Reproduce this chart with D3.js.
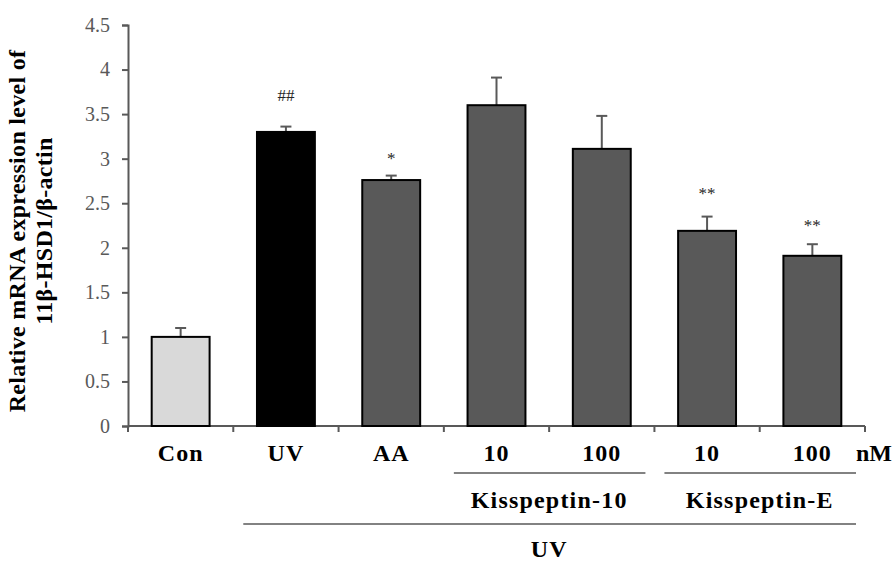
<!DOCTYPE html>
<html>
<head>
<meta charset="utf-8">
<script src="https://cdn.jsdelivr.net/npm/d3@7"></script>
<style>
  body { margin: 0; background: #fff; }
  svg { display: block; font-family: "Liberation Serif", "Times New Roman", serif; }
</style>
</head>
<body>
<svg id="chart" width="893" height="563"></svg>
<script>
// Data
const groups = ['Con', 'UV', 'AA', 'K10_10', 'K10_100', 'KE_10', 'KE_100'];
const tickLabels = ['Con', 'UV', 'AA', '10', '100', '10', '100'];
const means = [1.0, 3.30, 2.76, 3.60, 3.11, 2.19, 1.91];
const errors = [0.10, 0.06, 0.05, 0.31, 0.37, 0.16, 0.13];
const marks = ['', '##', '*', '', '', '**', '**'];
const markLevels = [null, 3.65, 2.94, null, null, 2.55, 2.19]; // baseline of the mark, in axis units
const fills = ['#d9d9d9', '#000000', '#595959', '#595959', '#595959', '#595959', '#595959'];
const yTicks = [0, 0.5, 1, 1.5, 2, 2.5, 3, 3.5, 4, 4.5];

const svg = d3.select('#chart');
const plotLeft = 128, plotRight = 865, plotTop = 25, plotBottom = 426;
const axisColor = '#595959';

const x = d3.scaleBand()
  .domain(groups)
  .range([plotLeft, plotRight])
  .paddingInner(0.45)
  .paddingOuter(0.225);

const y = d3.scaleLinear()
  .domain([0, 4.5])
  .range([plotBottom, plotTop]);

// y axis
const yAxis = d3.axisLeft(y)
  .tickValues(yTicks)
  .tickSize(6)
  .tickPadding(12)
  .tickFormat(d => d);

const gy = svg.append('g')
  .attr('transform', `translate(${plotLeft},0)`)
  .call(yAxis);
gy.select('.domain').attr('stroke', axisColor).attr('stroke-width', 2);
gy.selectAll('.tick line').attr('stroke', axisColor).attr('stroke-width', 2);
gy.selectAll('.tick text')
  .attr('fill', axisColor)
  .style('font-size', '20px')
  .style('font-family', '"Liberation Serif", serif');

// x axis line + category boundary ticks
const step = x.step();
const bounds = d3.range(groups.length + 1).map(i => plotLeft + i * step);
svg.append('line')
  .attr('x1', plotLeft).attr('x2', plotRight)
  .attr('y1', plotBottom).attr('y2', plotBottom)
  .attr('stroke', axisColor).attr('stroke-width', 2);
svg.selectAll('.xtick').data(bounds).join('line')
  .attr('class', 'xtick')
  .attr('x1', d => d).attr('x2', d => d)
  .attr('y1', plotBottom).attr('y2', plotBottom + 6)
  .attr('stroke', axisColor).attr('stroke-width', 2);

const data = groups.map((g, i) => ({
  g, v: means[i], e: errors[i], m: marks[i], ml: markLevels[i], f: fills[i], lab: tickLabels[i]
}));

// error bars (drawn first, behind bar top)
const cap = 5.5;
const eb = svg.append('g');
data.forEach(d => {
  const cx = x(d.g) + x.bandwidth() / 2;
  eb.append('line')
    .attr('x1', cx).attr('x2', cx)
    .attr('y1', y(d.v)).attr('y2', y(d.v + d.e))
    .attr('stroke', axisColor).attr('stroke-width', 2);
  eb.append('line')
    .attr('x1', cx - cap).attr('x2', cx + cap)
    .attr('y1', y(d.v + d.e)).attr('y2', y(d.v + d.e))
    .attr('stroke', axisColor).attr('stroke-width', 2);
});

// bars
svg.selectAll('.bar').data(data).join('rect')
  .attr('class', 'bar')
  .attr('x', d => x(d.g))
  .attr('y', d => y(d.v))
  .attr('width', x.bandwidth())
  .attr('height', d => y(0) - y(d.v))
  .attr('fill', d => d.f)
  .attr('stroke', '#000')
  .attr('stroke-width', 2);

// significance marks
svg.selectAll('.sig').data(data.filter(d => d.m)).join('text')
  .attr('class', 'sig')
  .attr('x', d => x(d.g) + x.bandwidth() / 2)
  .attr('y', d => y(d.ml))
  .attr('text-anchor', 'middle')
  .attr('fill', '#262626')
  .style('font-size', '17px')
  .text(d => d.m);

// category labels
svg.selectAll('.xlab').data(data).join('text')
  .attr('class', 'xlab')
  .attr('x', d => x(d.g) + x.bandwidth() / 2)
  .attr('y', 461)
  .attr('text-anchor', 'middle')
  .style('font-size', '24px')
  .style('font-weight', 'bold')
  .style('letter-spacing', '1px')
  .text(d => d.lab);

svg.append('text')
  .attr('x', 856).attr('y', 461)
  .style('font-size', '24px').style('font-weight', 'bold')
  .text('nM');

// group brackets
const brackets = [
  {label: 'Kisspeptin-10', from: 3, to: 5},
  {label: 'Kisspeptin-E', from: 5, to: 7}
];
brackets.forEach(b => {
  svg.append('line')
    .attr('x1', bounds[b.from] + 10).attr('x2', bounds[b.to] - 9)
    .attr('y1', 473).attr('y2', 473)
    .attr('stroke', axisColor).attr('stroke-width', 1.5);
  svg.append('text')
    .attr('x', (bounds[b.from] + bounds[b.to]) / 2)
    .attr('y', 508)
    .attr('text-anchor', 'middle')
    .style('font-size', '24px').style('font-weight', 'bold')
    .style('letter-spacing', '1.2px')
    .text(b.label);
});

// UV bracket
svg.append('line')
  .attr('x1', bounds[1] + 10).attr('x2', bounds[7] - 9)
  .attr('y1', 524).attr('y2', 524)
  .attr('stroke', axisColor).attr('stroke-width', 1.5);
svg.append('text')
  .attr('x', (bounds[3] + bounds[5]) / 2).attr('y', 557)
  .attr('text-anchor', 'middle')
  .style('font-size', '24px').style('font-weight', 'bold')
  .style('letter-spacing', '1px')
  .text('UV');

// y title
const yt = svg.append('text')
  .attr('transform', 'translate(25,231) rotate(-90)')
  .attr('text-anchor', 'middle')
  .style('font-size', '24px').style('font-weight', 'bold')
  .style('letter-spacing', '0.3px');
yt.append('tspan').attr('x', 0).attr('dy', 0).text('Relative mRNA expression level of');
yt.append('tspan').attr('x', 0).attr('dy', 27).text('11β-HSD1/β-actin');
</script>
</body>
</html>
